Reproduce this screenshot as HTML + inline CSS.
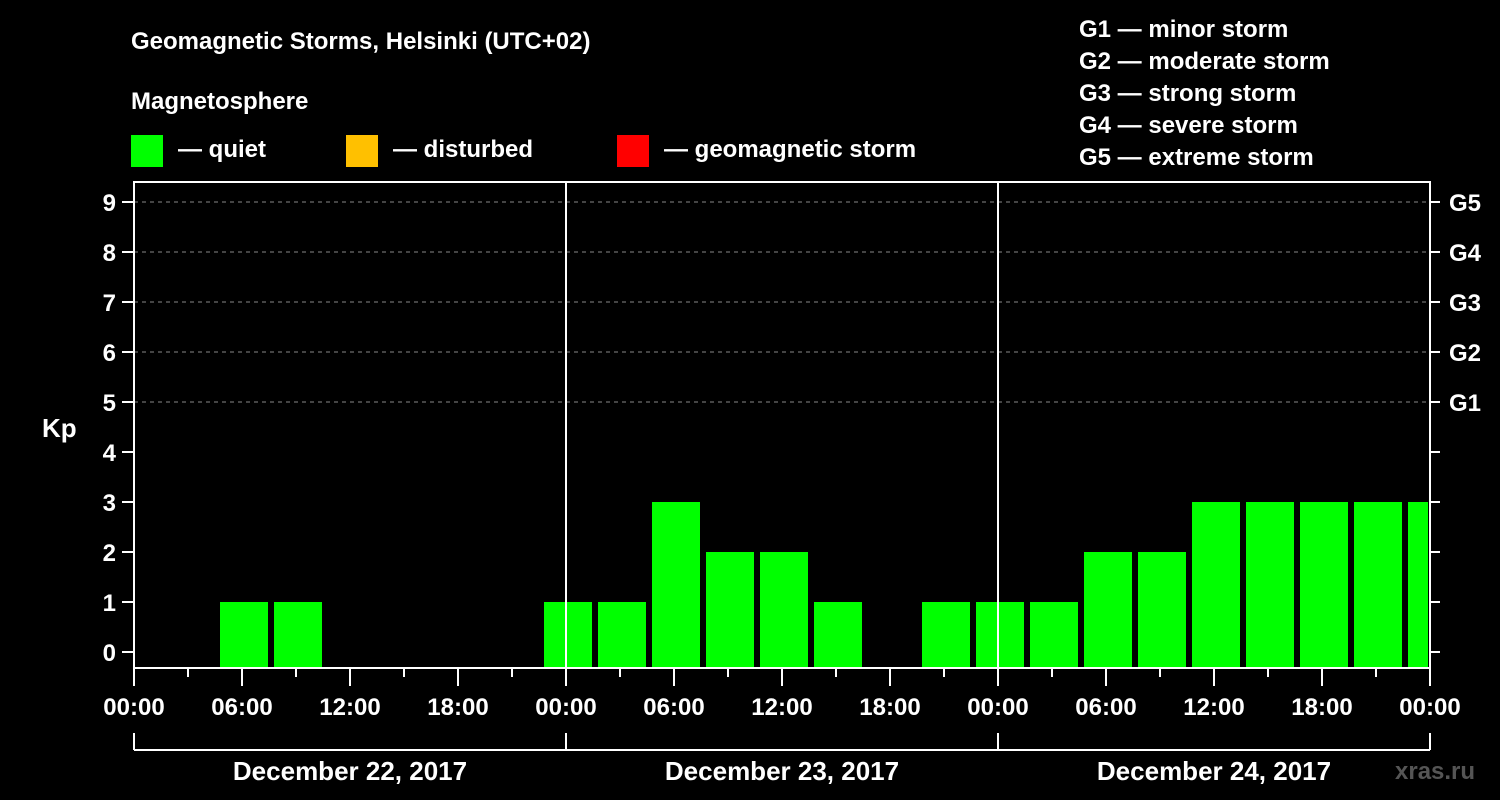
<!DOCTYPE html>
<html><head><meta charset="utf-8"><style>
html,body{margin:0;padding:0;background:#000;}
svg{display:block;font-family:"Liberation Sans",Arial,sans-serif;font-weight:bold;}
</style></head><body>
<svg id="c" width="1500" height="800" viewBox="0 0 1500 800">
<rect width="1500" height="800" fill="#000"/>
<text x="131" y="49" fill="#fff" font-size="24">Geomagnetic Storms, Helsinki (UTC+02)</text>
<text x="131" y="109" fill="#fff" font-size="24">Magnetosphere</text>
<g><rect x="131" y="135" width="32" height="32" fill="#00ff00"/><text x="178" y="157" fill="#fff" font-size="24">— quiet</text></g>
<g><rect x="346" y="135" width="32" height="32" fill="#ffc000"/><text x="393" y="157" fill="#fff" font-size="24">— disturbed</text></g>
<g><rect x="617" y="135" width="32" height="32" fill="#ff0000"/><text x="664" y="157" fill="#fff" font-size="24">— geomagnetic storm</text></g>
<g fill="#fff" font-size="24">
<text x="1079" y="37">G1 — minor storm</text>
<text x="1079" y="69">G2 — moderate storm</text>
<text x="1079" y="101">G3 — strong storm</text>
<text x="1079" y="133">G4 — severe storm</text>
<text x="1079" y="165">G5 — extreme storm</text>
</g>
<text x="42" y="437" fill="#fff" font-size="26">Kp</text>
<text x="1395" y="779" fill="#555" font-size="24">xras.ru</text>
<g id="grid"></g>
<g id="bars"></g>
<g id="axes"></g>
</svg>
<script>
const kpValues=[0,0,1,1,0,0,0,0,1,1,3,2,2,1,0,1,1,1,2,2,3,3,3,3,3];
const yTicks=[0,1,2,3,4,5,6,7,8,9];
const gLabels=["G1","G2","G3","G4","G5"];
const xTickLabels=["00:00","06:00","12:00","18:00","00:00","06:00","12:00","18:00","00:00","06:00","12:00","18:00","00:00"];
const dayLabels=["December 22, 2017","December 23, 2017","December 24, 2017"];
const NS="http://www.w3.org/2000/svg";
const L=134,R=1430,T=182,B=668;
const yS=v=>652-50*v;
const xH=h=>L+18*h; // local hours from Dec 22 00:00
function mk(p,tag,a){const e=document.createElementNS(NS,tag);for(const k in a)e.setAttribute(k,a[k]);p.appendChild(e);return e;}
const grid=document.getElementById('grid'),bars=document.getElementById('bars'),ax=document.getElementById('axes');
for(let v=5;v<=9;v++){const l=mk(grid,'line',{x1:L,x2:R,y1:yS(v),y2:yS(v),stroke:'#888','stroke-dasharray':'4,4'});

}
kpValues.forEach((v,k)=>{if(v<=0)return;
const x0=xH(-1+3*k)-4;const x1=Math.min(x0+48,R-2);
const r=mk(bars,'rect',{x:x0,y:yS(v),width:x1-x0,height:B-yS(v),fill:'#00ff00'});

});
const frame=mk(ax,'rect',{x:L,y:T,width:R-L,height:B-T,fill:'none',stroke:'#fff','stroke-width':2});


[1,2].forEach(d=>{const l=mk(ax,'line',{x1:xH(24*d),x2:xH(24*d),y1:T,y2:B,stroke:'#fff','stroke-width':2});

});
yTicks.forEach(v=>{mk(ax,'line',{x1:L-12,x2:L,y1:yS(v),y2:yS(v),stroke:'#fff','stroke-width':2});
mk(ax,'line',{x1:R,x2:R+10,y1:yS(v),y2:yS(v),stroke:'#fff','stroke-width':2});
const t=mk(ax,'text',{x:L-18,y:yS(v)+9,fill:'#fff','font-size':24,'text-anchor':'end'});t.textContent=v;

});
gLabels.forEach((g,i)=>{const t=mk(ax,'text',{x:1449,y:yS(5+i)+9,fill:'#fff','font-size':24});t.textContent=g;

});
for(let h=0;h<=72;h+=3){const major=h%6===0;mk(ax,'line',{x1:xH(h),x2:xH(h),y1:B,y2:B+(major?18:9),stroke:'#fff','stroke-width':2});}
xTickLabels.forEach((s,i)=>{const t=mk(ax,'text',{x:xH(6*i),y:715,fill:'#fff','font-size':24,'text-anchor':'middle'});t.textContent=s;

});
mk(ax,'line',{x1:L,x2:R,y1:750,y2:750,stroke:'#fff','stroke-width':2});
for(let d=0;d<=3;d++)mk(ax,'line',{x1:xH(24*d),x2:xH(24*d),y1:733,y2:750,stroke:'#fff','stroke-width':2});
dayLabels.forEach((s,i)=>{const t=mk(ax,'text',{x:xH(24*i+12),y:780,fill:'#fff','font-size':26,'text-anchor':'middle'});t.textContent=s;

});
</script>
</body></html>
